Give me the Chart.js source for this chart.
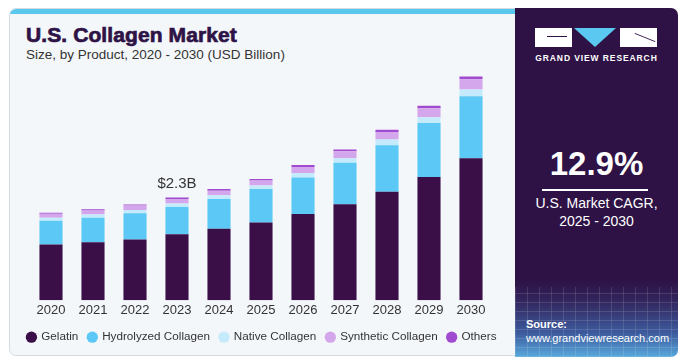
<!DOCTYPE html>
<html>
<head>
<meta charset="utf-8">
<script src="https://cdn.jsdelivr.net/npm/chart.js@4/dist/chart.umd.min.js"></script>
<style>
  html, body { margin: 0; padding: 0; background: #fff; }
  body { width: 699px; height: 364px; position: relative; overflow: hidden; font-family: "Liberation Sans", Arial, sans-serif; }
  .card { position: absolute; left: 9px; top: 8px; width: 520px; height: 348px; background: #f4f7fa;
          border: 1px solid #d5dbe2; border-radius: 7px; box-sizing: border-box; overflow: hidden; }
  .card .strip { position: absolute; left: 0; top: 0; right: 0; height: 5px; background: #5ac8ec; }
  .title { position: absolute; left: 26px; top: 23px; font-size: 21px; font-weight: bold; color: #2e1346;
           -webkit-text-stroke: 0.7px #2e1346; letter-spacing: 0.1px; }
  .subtitle { position: absolute; left: 26px; top: 47px; font-size: 13.5px; color: #333; }
  .chartbox { position: absolute; left: 9px; top: 62px; width: 506px; height: 291px; }
  .panel { position: absolute; left: 515px; top: 8px; width: 163px; height: 349px; border-radius: 0 7px 7px 0;
           background: linear-gradient(to bottom, #2e1245 0%, #2e1245 78%, #33275e 84%, #3d5a9c 93%, #58a9dc 100%); overflow: hidden; }
  .grid { position: absolute; left: 0; right: 0; bottom: 0; height: 70px; opacity: 0.25;
          background-image: repeating-linear-gradient(90deg, rgba(255,255,255,0.5) 0 1px, transparent 1px 12px),
                            repeating-linear-gradient(0deg, rgba(255,255,255,0.5) 0 1px, transparent 1px 9px); }
  .logo { position: absolute; left: 20px; top: 20px; width: 122px; height: 19px; }
  .logo .l { position: absolute; left: 0; top: 0; width: 37px; height: 19px; background: #fff; }
  .logo .l::after { content: ""; position: absolute; left: 12px; top: 8px; width: 20px; height: 1px; background: #2e1245; }
  .logo .t { position: absolute; left: 39px; top: 0; width: 0; height: 0; border-left: 21px solid transparent;
             border-right: 21px solid transparent; border-top: 19px solid #5ac8f0; }
  .logo .r { position: absolute; left: 85px; top: 0; width: 37px; height: 19px; background: #fff; }
  .logo .r::after { content: ""; position: absolute; left: 14px; top: 9px; width: 22px; height: 1px; background: #2e1245; transform: rotate(22deg); }
  .brand { position: absolute; left: 0; width: 163px; top: 45px; text-align: center; color: #fff; font-size: 8.5px;
           font-weight: bold; letter-spacing: 0.9px; }
  .cagr { position: absolute; left: 0; width: 163px; top: 137px; text-align: center; color: #fff; font-size: 33px; font-weight: bold; }
  .rule { position: absolute; left: 27px; width: 106px; top: 181px; height: 1.5px; background: #fff; }
  .cagrtxt { position: absolute; left: 0; width: 163px; top: 186px; text-align: center; color: #fff; font-size: 14px; line-height: 18px; }
  .src { position: absolute; left: 11px; top: 309px; color: #fff; font-size: 11px; line-height: 14px; }
  .src b { font-weight: bold; }
</style>
</head>
<body>
<div class="card"><div class="strip"></div></div>
<div class="title">U.S. Collagen Market</div>
<div class="subtitle">Size, by Product, 2020 - 2030 (USD Billion)</div>
<div class="chartbox"><canvas id="chart"></canvas></div>
<div class="panel">
  <div class="grid"></div>
  <div class="logo"><div class="l"></div><div class="t"></div><div class="r"></div></div>
  <div class="brand">GRAND VIEW RESEARCH</div>
  <div class="cagr">12.9%</div>
  <div class="rule"></div>
  <div class="cagrtxt">U.S. Market CAGR,<br>2025 - 2030</div>
  <div class="src"><b>Source:</b><br>www.grandviewresearch.com</div>
</div>
<script>
const years = ['2020', '2021', '2022', '2023', '2024', '2025', '2026', '2027', '2028', '2029', '2030'];
const gelatin    = [1.25, 1.30, 1.36, 1.48, 1.60, 1.74, 1.93, 2.15, 2.43, 2.76, 3.18];
const hydrolyzed = [0.53, 0.55, 0.59, 0.61, 0.67, 0.75, 0.82, 0.93, 1.04, 1.21, 1.39];
const native     = [0.07, 0.07, 0.07, 0.075, 0.08, 0.08, 0.10, 0.10, 0.13, 0.13, 0.15];
const synthetic  = [0.09, 0.09, 0.10, 0.105, 0.105, 0.11, 0.135, 0.155, 0.17, 0.20, 0.23];
const others     = [0.022, 0.03, 0.023, 0.03, 0.038, 0.038, 0.045, 0.04, 0.045, 0.054, 0.06];
const highlightYear = '2023';
const highlightLabel = '$2.3B';

const fontFamily = '"Liberation Sans", Arial, sans-serif';

// label above the highlighted stack
const totalLabel = {
    id: 'totalLabel',
    afterDatasetsDraw(chart) {
        const i = years.indexOf(highlightYear);
        const meta = chart.getDatasetMeta(chart.data.datasets.length - 1);
        const bar = meta.data[i];
        const c = chart.ctx;
        c.save();
        c.font = '15px ' + fontFamily;
        c.fillStyle = '#333';
        c.textAlign = 'center';
        c.textBaseline = 'alphabetic';
        c.fillText(highlightLabel, bar.x, bar.y - 10);
        c.restore();
    }
};

// invisible side axes, only to keep the bars inside the card
const sideAxis = (position, width) => ({
    position: position,
    display: true,
    grid: { display: false },
    border: { display: false },
    ticks: { display: false },
    afterFit: scale => { scale.width = width; }
});

const ctx = document.getElementById('chart').getContext('2d');
new Chart(ctx, {
    type: 'bar',
    data: {
        labels: years,
        datasets: [
            { label: 'Gelatin', data: gelatin, backgroundColor: '#3a0f48' },
            { label: 'Hydrolyzed Collagen', data: hydrolyzed, backgroundColor: '#5bc8f5' },
            { label: 'Native Collagen', data: native, backgroundColor: '#c4ebfb' },
            { label: 'Synthetic Collagen', data: synthetic, backgroundColor: '#d4a6ec' },
            { label: 'Others', data: others, backgroundColor: '#a04bd0' }
        ]
    },
    options: {
        responsive: true,
        maintainAspectRatio: false,
        animation: false,
        barPercentage: 0.55,
        categoryPercentage: 1,
        layout: { padding: { left: 0, right: 0, top: 6, bottom: 0 } },
        plugins: {
            tooltip: { enabled: false },
            legend: {
                display: true,
                position: 'bottom',
                labels: {
                    usePointStyle: true,
                    pointStyle: 'circle',
                    boxWidth: 8,
                    boxHeight: 8,
                    padding: 10,
                    color: '#333',
                    font: { size: 11.7, family: fontFamily }
                }
            }
        },
        scales: {
            x: {
                stacked: true,
                grid: { display: false, drawTicks: false },
                border: { display: false },
                ticks: { color: '#333', padding: 4, font: { size: 13, lineHeight: 1, family: fontFamily } }
            },
            y: Object.assign(sideAxis('left', 21), { stacked: true, min: 0, max: 5.2 }),
            yRight: sideAxis('right', 23)
        }
    },
    plugins: [totalLabel]
});
</script>
</body>
</html>
